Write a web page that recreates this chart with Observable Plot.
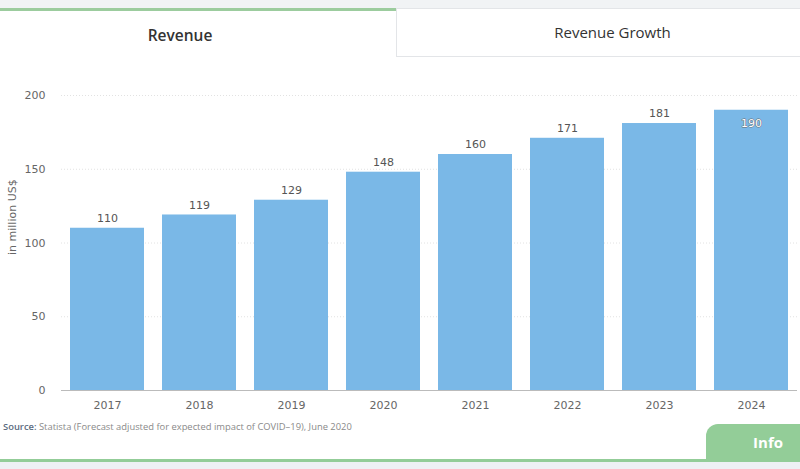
<!DOCTYPE html>
<html>
<head>
<meta charset="utf-8">
<script src="https://cdn.jsdelivr.net/npm/d3@7"></script>
<script src="https://cdn.jsdelivr.net/npm/@observablehq/plot@0.6"></script>
<style>
  html, body { margin: 0; padding: 0; width: 800px; height: 469px; overflow: hidden; background: #fff; font-family: "Open Sans", sans-serif; }
  #topstrip { position: absolute; left: 0; top: 0; width: 800px; height: 8px; background: #f1f3f5; }
  #tab1 { position: absolute; left: 0; top: 8px; width: 396px; height: 48px; border-top: 3px solid #9ccc9e; box-sizing: border-box; text-align: center; line-height: 48px; font-weight: 600; font-size: 15.5px; color: #333; padding-right: 36px; }
  #tab2 { position: absolute; left: 396px; top: 8px; width: 404px; height: 49px; border: 1px solid #e3e5e8; border-right: none; box-sizing: border-box; background: #fff; text-align: center; line-height: 46px; font-size: 15px; color: #333; padding-left: 28px; }
  #chart { position: absolute; left: 0; top: 60px; }
  #source { position: absolute; left: 3px; top: 420px; font-size: 9.4px; color: #8a8a8a; }
  #source b { color: #5b6b80; font-weight: 600; }
  #info { position: absolute; left: 706px; top: 424px; width: 94px; height: 36px; background: #93cd98; border-top-left-radius: 12px; color: #fff; font-weight: 700; font-size: 15px; line-height: 36px; text-align: right; box-sizing: border-box; padding-right: 17px; }
  #bottomline { position: absolute; left: 0; top: 459px; width: 800px; height: 3px; background: #93cd98; }
  #bottomstrip { position: absolute; left: 0; top: 462px; width: 800px; height: 7px; background: #eef1f4; }
</style>
</head>
<body>
<div id="topstrip"></div>
<div id="tab1">Revenue</div>
<div id="tab2">Revenue Growth</div>
<div id="chart"></div>
<div id="source"><b>Source:</b> Statista (Forecast adjusted for expected impact of COVID–19), June 2020</div>
<div id="info">Info</div>
<div id="bottomline"></div>
<div id="bottomstrip"></div>
<script>
const years = ["2017", "2018", "2019", "2020", "2021", "2022", "2023", "2024"];
const revenue = [110, 119, 129, 148, 160, 171, 181, 190];
const yTicks = [0, 50, 100, 150, 200];
const yLabel = "in million US$";

const data = years.map((y, i) => ({year: y, value: revenue[i]}));
const outside = data.slice(0, 7);
const inside = data.slice(7);

const chart = Plot.plot({
  width: 800,
  height: 360,
  marginTop: 35,
  marginBottom: 30,
  marginLeft: 61,
  marginRight: 3,
  style: {fontFamily: "'DejaVu Sans', sans-serif", fontSize: "11px", color: "#666", background: "transparent"},
  x: {domain: years, paddingInner: 0.196, paddingOuter: 0.098, label: null},
  y: {domain: [0, 200], ticks: yTicks, label: null},
  marks: [
    Plot.ruleY(yTicks.filter(d => d > 0), {stroke: "#e2e2e2", strokeDasharray: "1,2"}),
    Plot.barY(data, {x: "year", y: "value", fill: "#7ab8e7"}),
    Plot.ruleY([0], {stroke: "#bbb"}),
    Plot.axisY({ticks: yTicks, tickSize: 0, tickPadding: 16, fill: "#666", fontSize: 11}),
    Plot.axisX({tickSize: 0, tickPadding: 11, fill: "#666", fontSize: 11}),
    Plot.text([yLabel], {frameAnchor: "left", rotate: -90, dx: -49, dy: 12, fill: "#666", fontSize: 11}),
    Plot.text(outside, {x: "year", y: "value", text: d => String(d.value), dy: -10, fill: "#555", fontSize: 11}),
    Plot.text(inside, {x: "year", y: "value", text: d => String(d.value), dy: 13, fill: "#fff", stroke: "#666", strokeWidth: 0.9, fontSize: 11})
  ]
});
document.getElementById("chart").appendChild(chart);
</script>
</body>
</html>
